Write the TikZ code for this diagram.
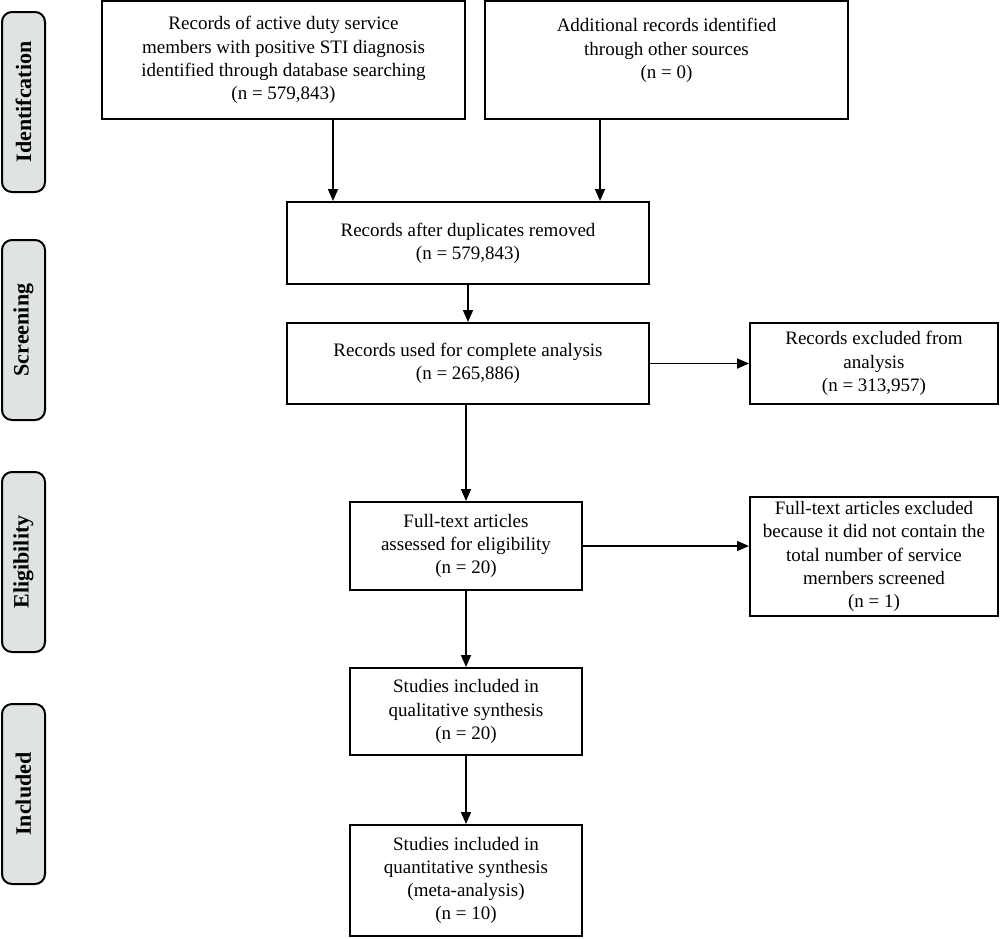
\documentclass[tikz,border=0pt]{standalone}
\usepackage{fontspec}
\setmainfont{Liberation Serif}
\usepackage{xcolor}
\usetikzlibrary{positioning,arrows.meta,calc}
\definecolor{stageGrey}{HTML}{DFE3E3}

\begin{document}
\begin{tikzpicture}[
    x=0.5pt, y=-0.5pt,
    box/.style={draw, line width=1pt, align=center, inner sep=2pt,
      font=\fontsize{9.5}{11.6}\selectfont},
    stage/.style={draw, line width=1pt, rounded corners=5pt, fill=stageGrey,
      minimum width=90pt, minimum height=21.5pt, rotate=90,
      font=\fontsize{11}{13}\selectfont\bfseries},
    arr/.style={-{Triangle[width=5pt,length=6pt]}, line width=0.85pt}
  ]
  \useasboundingbox (0,0) rectangle (1000,938);

  % Stages
  \node[stage] (sid) at (23.5,102) {Identifcation};
  \node[stage] (sscr) at (23.5,330) {Screening};
  \node[stage] (selg) at (23.5,562) {Eligibility};
  \node[stage] (sinc) at (23.5,794) {Included};

  % Boxes
  \node[box, minimum width=181.5pt, minimum height=59pt] (rdb) at (283.5,60)
    {Records of active duty service\\members with positive STI diagnosis\\identified through database searching\\(n = 579,843)};
  \node[box, minimum width=181.5pt, minimum height=59pt] (radd) at (666.5,60)
    {Additional records identified\\through other sources\\(n = 0)\\~};
  \node[box, minimum width=181pt, minimum height=41pt] (rdup) at (468,243)
    {Records after duplicates removed\\(n = 579,843)};
  \node[box, minimum width=181pt, minimum height=40.5pt] (ruse) at (468,363.5)
    {Records used for complete analysis\\(n = 265,886)};
  \node[box, minimum width=124pt, minimum height=40.5pt] (rexc) at (874,363.5)
    {Records excluded from\\analysis\\(n = 313,957)};
  \node[box, minimum width=116pt, minimum height=44pt] (ft) at (466,546)
    {Full-text articles\\assessed for eligibility\\(n = 20)};
  \node[box, minimum width=124pt, minimum height=59.5pt] (ftexc) at (874,556.5)
    {Full-text articles excluded\\because it did not contain the\\total number of service\\mernbers screened\\(n = 1)};
  \node[box, minimum width=116pt, minimum height=43.5pt] (qual) at (466,711.5)
    {Studies included in\\qualitative synthesis\\(n = 20)};
  \node[box, minimum width=116pt, minimum height=55.5pt] (quan) at (466,880.5)
    {Studies included in\\quantitative synthesis\\(meta-analysis)\\(n = 10)};

  \coordinate (xa) at (333,0);
  \coordinate (xb) at (600,0);

  \draw[arr] (rdb.south -| xa) -- (rdup.north -| xa);
  \draw[arr] (radd.south -| xb) -- (rdup.north -| xb);
  \draw[arr] (rdup) -- (ruse);
  \draw[arr] (ruse) -- (rexc);
  \draw[arr] (ruse.south -| ft) -- (ft.north);
  \draw[arr] (ft) -- (ft -| ftexc.west);
  \draw[arr] (ft) -- (qual);
  \draw[arr] (qual) -- (quan);
\end{tikzpicture}
\end{document}
